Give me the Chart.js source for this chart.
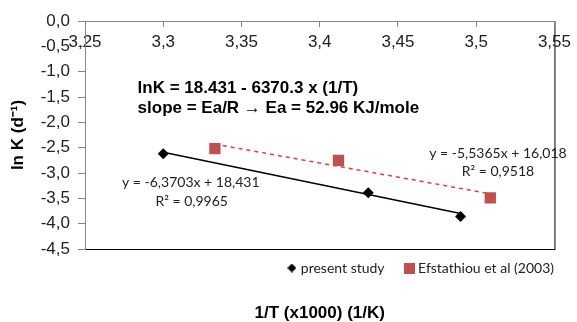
<!DOCTYPE html>
<html>
<head>
<meta charset="utf-8">
<script src="https://cdn.jsdelivr.net/npm/chart.js@4/dist/chart.umd.min.js"></script>
<style>
    html, body { margin: 0; padding: 0; background: #fff; }
    #wrap { width: 577px; height: 322px; }
</style>
</head>
<body>
<div id="wrap"><canvas id="grafico" width="577" height="322"></canvas></div>
<script>
// tick labels
const xTicks = [3.25, 3.3, 3.35, 3.4, 3.45, 3.5, 3.55];
const yTicks = [0, -0.5, -1, -1.5, -2, -2.5, -3, -3.5, -4, -4.5];

// series
const seriesNames = ['present study', 'Efstathiou et al (2003)'];
const presentX = [3.300, 3.431, 3.490];
const presentY = [-2.62, -3.39, -3.86];
const efstX = [3.333, 3.412, 3.509];
const efstY = [-2.52, -2.75, -3.49];

// trendline end points
const trendPresentX = [3.300, 3.490];
const trendPresentY = [-2.59, -3.80];
const trendEfstX = [3.333, 3.509];
const trendEfstY = [-2.43, -3.41];

// texts
const boldNotes = ['lnK = 18.431 - 6370.3 x (1/T)', 'slope = Ea/R \u2192 Ea = 52.96 KJ/mole'];
const eqPresent = ['y = -6,3703x + 18,431', 'R\u00b2 = 0,9965'];
const eqEfst = ['y = -5,5365x + 16,018', 'R\u00b2 = 0,9518'];

const ARIAL = '"Liberation Sans", Arial, sans-serif';
const SOFT = 'Lato, "Open Sans", sans-serif';
const RED = '#C0504D';

function pontos(xs, ys) {
    return xs.map((x, i) => ({x: x, y: ys[i]}));
}

function marcador(tipo, tam, cor) {
    const c = document.createElement('canvas');
    c.width = tam; c.height = tam;
    const g = c.getContext('2d');
    g.fillStyle = cor;
    if (tipo === 'diamond') {
        g.beginPath();
        g.moveTo(tam / 2, 0); g.lineTo(tam, tam / 2);
        g.lineTo(tam / 2, tam); g.lineTo(0, tam / 2);
        g.closePath(); g.fill();
    } else {
        g.fillRect(0, 0, tam, tam);
    }
    return c;
}
const legendaMarcas = [marcador('diamond', 9, '#000'), marcador('square', 11, RED)];

const moldura = {
    id: 'moldura',
    beforeDraw(chart) {
        const {ctx, chartArea: a} = chart;
        ctx.save();
        ctx.strokeStyle = '#000';
        ctx.lineWidth = 1;
        ctx.strokeRect(a.left + 0.5, a.top + 0.5, a.width, a.height);
        ctx.restore();
    }
};

const anotacoes = {
    id: 'anotacoes',
    afterDraw(chart) {
        const {ctx, scales: {x, y}} = chart;
        ctx.save();
        ctx.textBaseline = 'middle';
        ctx.fillStyle = '#000';
        ctx.textAlign = 'left';
        ctx.font = 'bold 17px ' + ARIAL;
        ctx.fillText(boldNotes[0], x.getPixelForValue(3.2836), y.getPixelForValue(-1.32));
        ctx.fillText(boldNotes[1], x.getPixelForValue(3.2836), y.getPixelForValue(-1.72));

        ctx.fillStyle = '#222';
        ctx.textAlign = 'center';
        ctx.font = '14px ' + SOFT;
        ctx.fillText(eqPresent[0], x.getPixelForValue(3.3176), y.getPixelForValue(-3.19));
        ctx.fillText(eqPresent[1], x.getPixelForValue(3.3182), y.getPixelForValue(-3.56));
        ctx.fillText(eqEfst[0], x.getPixelForValue(3.5139), y.getPixelForValue(-2.61));
        ctx.fillText(eqEfst[1], x.getPixelForValue(3.5139), y.getPixelForValue(-2.97));
        ctx.restore();
    }
};

const ctx = document.getElementById('grafico').getContext('2d');
const grafico = new Chart(ctx, {
    type: 'scatter',
    data: {
        datasets: [
            {
                label: seriesNames[0],
                data: pontos(presentX, presentY),
                pointStyle: 'rectRot',
                pointRadius: 5.5,
                backgroundColor: '#000',
                borderColor: '#000',
                borderWidth: 0
            },
            {
                label: seriesNames[1],
                data: pontos(efstX, efstY),
                pointStyle: 'rect',
                pointRadius: 8,
                backgroundColor: RED,
                borderColor: RED,
                borderWidth: 0
            },
            {
                label: 'trend present',
                data: pontos(trendPresentX, trendPresentY),
                showLine: true,
                pointRadius: 0,
                borderColor: '#000',
                borderWidth: 1.5
            },
            {
                label: 'trend efst',
                data: pontos(trendEfstX, trendEfstY),
                showLine: true,
                pointRadius: 0,
                borderColor: '#E03C3C',
                borderWidth: 1.5,
                borderDash: [4, 4]
            }
        ]
    },
    options: {
        responsive: false,
        animation: false,
        layout: {padding: {top: 21, right: 11, left: 0, bottom: 0}},
        scales: {
            x: {
                type: 'linear',
                position: {y: 0},
                min: 3.25,
                max: 3.55,
                afterBuildTicks: s => { s.ticks = xTicks.map(v => ({value: v})); },
                ticks: {
                    font: {family: ARIAL, size: 17},
                    color: '#222',
                    padding: 6,
                    maxRotation: 0,
                    autoSkip: false,
                    callback: v => String(v).replace('.', ',')
                },
                grid: {drawOnChartArea: false, drawTicks: true, tickLength: 5, color: '#868686'},
                border: {color: '#868686', width: 1}
            },
            y: {
                type: 'linear',
                position: 'left',
                min: -4.5,
                max: 0,
                afterBuildTicks: s => { s.ticks = yTicks.map(v => ({value: v})); },
                afterFit: s => { s.width = 85; },
                ticks: {
                    font: {family: ARIAL, size: 17},
                    color: '#222',
                    padding: 8,
                    autoSkip: false,
                    callback: v => v.toFixed(1).replace('.', ',')
                },
                grid: {drawOnChartArea: false, drawTicks: true, tickLength: 7, color: '#868686'},
                border: {color: '#868686', width: 1},
                title: {
                    display: true,
                    text: 'ln K (d\u207b\u00b9)',
                    font: {family: ARIAL, size: 17, weight: 'bold'},
                    color: '#000',
                    padding: {top: 8, bottom: 0}
                }
            },
            // empty right axis, only keeps a small gap after the plot
            y2: {
                type: 'linear',
                position: 'right',
                display: true,
                min: -4.5,
                max: 0,
                afterFit: s => { s.width = 8; },
                ticks: {display: false},
                grid: {display: false},
                border: {display: false}
            }
        },
        plugins: {
            tooltip: {enabled: false},
            legend: {
                position: 'bottom',
                align: 'end',
                labels: {
                    usePointStyle: true,
                    pointStyleWidth: 4,
                    font: {family: SOFT, size: 14},
                    color: '#222',
                    padding: 12,
                    filter: item => item.datasetIndex < 2,
                    generateLabels(chart) {
                        const items = Chart.defaults.plugins.legend.labels.generateLabels(chart);
                        items.forEach((it, i) => {
                            if (i < 2) it.pointStyle = legendaMarcas[i];
                            if (i === 0) it.text = it.text + '\u2003';
                        });
                        return items;
                    }
                }
            },
            title: {
                display: true,
                position: 'bottom',
                fullSize: false,
                text: '1/T (x1000) (1/K)',
                font: {family: ARIAL, size: 17, weight: 'bold', lineHeight: 1},
                color: '#000',
                padding: {top: 20, bottom: 0}
            }
        }
    },
    plugins: [moldura, anotacoes]
});
</script>
</body>
</html>
